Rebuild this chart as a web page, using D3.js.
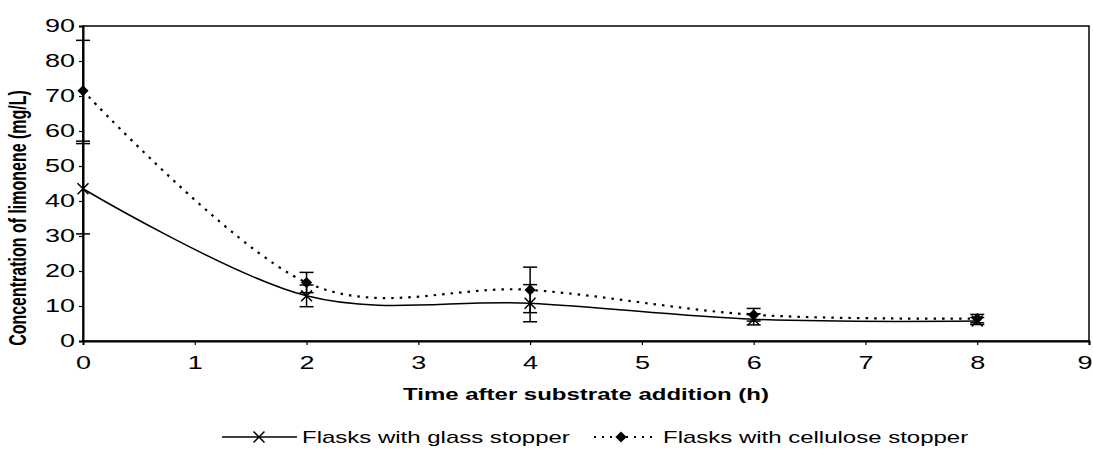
<!DOCTYPE html>
<html>
<head>
<meta charset="utf-8">
<script src="https://cdn.jsdelivr.net/npm/d3@7"></script>
<style>
  body { margin: 0; background: #fff; }
  text { font-family: "Liberation Sans", Arial, sans-serif; fill: #000; }
</style>
</head>
<body>
<div id="chart"></div>
<script>
// time points (h)
var times = [0, 2, 4, 6, 8];
// glass stopper
var glassVals = [43.5, 12.9, 10.8, 6.2, 5.7];
var glassErr  = [12.9, 3.1, 5.3, 1.6, 1.0];
// cellulose stopper
var celluVals = [71.5, 16.7, 14.6, 7.5, 6.4];
var celluErr  = [14.4, 2.9, 6.5, 1.8, 1.2];

var xTicks = [0, 1, 2, 3, 4, 5, 6, 7, 8, 9];
var yTicks = [0, 10, 20, 30, 40, 50, 60, 70, 80, 90];

var W = 1093, H = 454;
var margin = {left: 83, right: 4, top: 26, bottom: 113};
var width = W - margin.left - margin.right,
    height = H - margin.top - margin.bottom;
var stretch = 1.5; // the original text is wider than it is tall

var svg = d3.select('#chart').append('svg')
    .attr('width', W)
    .attr('height', H);

var inner = svg.append('g')
    .attr('transform', 'translate(' + margin.left + ',' + margin.top + ')');

var Xscale = d3.scaleLinear().domain([0, 9]).range([0, width]);
var Yscale = d3.scaleLinear().domain([0, 90]).range([height, 0]);

// frame
inner.append('rect')
    .attr('width', width)
    .attr('height', height)
    .attr('fill', 'none')
    .attr('stroke', '#000')
    .attr('stroke-width', 1.5);

// axes
var axisX = inner.append('g')
    .attr('transform', 'translate(0,' + height + ')')
    .call(d3.axisBottom(Xscale).tickValues(xTicks).tickSize(4).tickPadding(11));

var axisY = inner.append('g')
    .call(d3.axisLeft(Yscale).tickValues(yTicks).tickSize(4).tickPadding(4));

[axisX, axisY].forEach(function(a){
    a.select('.domain').attr('stroke-width', 2);
    a.selectAll('.tick line').attr('stroke-width', 1.2);
    a.selectAll('.tick text')
        .style('font-size', '18px')
        .style('font-family', '"Liberation Sans", Arial, sans-serif');
});
axisX.selectAll('.tick text').attr('transform', 'scale(' + stretch + ',1)');
// last label sits on the right edge, keep it inside the page
axisX.selectAll('.tick text').filter(function(d){ return d === 9; })
    .style('text-anchor', 'end')
    .attr('x', 3 / stretch);
axisY.selectAll('.tick text').each(function(){
    var t = d3.select(this);
    var x = +t.attr('x');
    t.attr('x', 0).attr('transform', 'translate(' + x + ',0) scale(' + stretch + ',1)');
});

// axis titles
svg.append('text')
    .attr('transform', 'translate(586,400) scale(' + stretch + ',1)')
    .style('text-anchor', 'middle')
    .style('font-weight', 'bold')
    .style('font-size', '16px')
    .text('Time after substrate addition (h)');

svg.append('text')
    .attr('transform', 'translate(26,218) rotate(-90) scale(1,' + stretch + ')')
    .style('text-anchor', 'middle')
    .style('font-weight', 'bold')
    .style('font-size', '16px')
    .text('Concentration of limonene (mg/L)');

var glassData = times.map(function(t, i){ return {t: t, v: glassVals[i], e: glassErr[i]}; });
var celluData = times.map(function(t, i){ return {t: t, v: celluVals[i], e: celluErr[i]}; });

var line = d3.line()
    .x(function(d){ return Xscale(d.t); })
    .y(function(d){ return Yscale(d.v); })
    .curve(d3.curveCardinal.tension(0));

// error bars
function errorBars(data){
    var g = inner.append('g').attr('stroke', '#000').attr('stroke-width', 1.5);
    data.forEach(function(d){
        var x = Xscale(d.t);
        g.append('line').attr('x1', x).attr('x2', x)
            .attr('y1', Yscale(d.v - d.e)).attr('y2', Yscale(d.v + d.e));
        [d.v - d.e, d.v + d.e].forEach(function(v){
            g.append('line').attr('x1', x - 7).attr('x2', x + 7)
                .attr('y1', Yscale(v)).attr('y2', Yscale(v));
        });
    });
}
errorBars(glassData);
errorBars(celluData);

// lines
inner.append('path')
    .datum(glassData)
    .attr('d', line)
    .style('stroke', '#000')
    .style('stroke-width', 1.5)
    .style('fill', 'none');

inner.append('path')
    .datum(celluData)
    .attr('d', line)
    .style('stroke', '#000')
    .style('stroke-width', 2.2)
    .style('stroke-dasharray', '2.5,6')
    .style('fill', 'none');

// markers
var crossSym = d3.symbol().type(d3.symbolTimes).size(80);
var diamondSym = d3.symbol().type(d3.symbolDiamond2).size(80);

inner.selectAll('.gm').data(glassData).enter().append('path')
    .attr('transform', function(d){ return 'translate(' + Xscale(d.t) + ',' + Yscale(d.v) + ')'; })
    .attr('d', crossSym)
    .attr('fill', 'none')
    .attr('stroke', '#000')
    .attr('stroke-width', 1.5);

inner.selectAll('.cm').data(celluData).enter().append('path')
    .attr('transform', function(d){ return 'translate(' + Xscale(d.t) + ',' + Yscale(d.v) + ')'; })
    .attr('d', diamondSym)
    .attr('fill', '#000');

// legend
var ly = 437;
var leg = svg.append('g');
leg.append('line').attr('x1', 222).attr('x2', 297).attr('y1', ly).attr('y2', ly)
    .attr('stroke', '#000').attr('stroke-width', 1.5);
leg.append('path').attr('transform', 'translate(259,' + ly + ')').attr('d', crossSym)
    .attr('fill', 'none').attr('stroke', '#000').attr('stroke-width', 1.5);
leg.append('text').attr('transform', 'translate(302,' + (ly + 6) + ') scale(' + stretch + ',1)')
    .style('font-size', '16px').text('Flasks with glass stopper');

leg.append('line').attr('x1', 594).attr('x2', 652).attr('y1', ly).attr('y2', ly)
    .attr('stroke', '#000').attr('stroke-width', 2).attr('stroke-dasharray', '2,6');
leg.append('path').attr('transform', 'translate(621,' + ly + ')').attr('d', diamondSym)
    .attr('fill', '#000');
leg.append('text').attr('transform', 'translate(663,' + (ly + 6) + ') scale(' + stretch + ',1)')
    .style('font-size', '16px').text('Flasks with cellulose stopper');
</script>
</body>
</html>
